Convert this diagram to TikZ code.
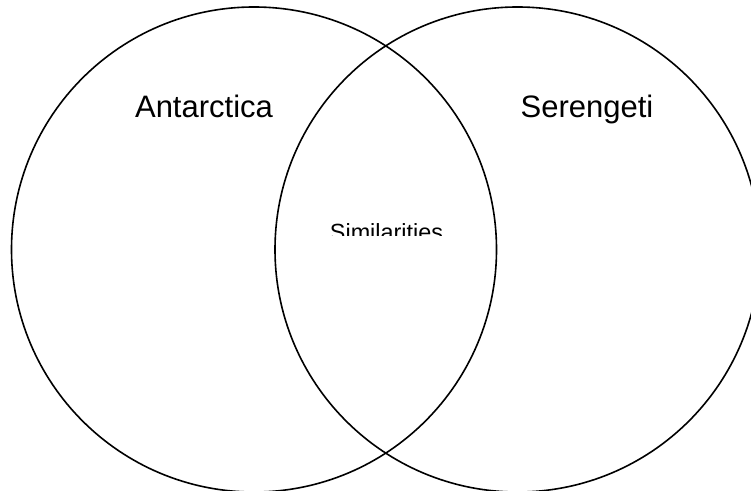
\documentclass[tikz,border=0pt]{standalone}
\usepackage{fontspec}
\setmainfont{Liberation Sans}
\definecolor{vnInk}{HTML}{000000}

\begin{document}
\begin{tikzpicture}[x=1pt,y=1pt,
                    ring/.style={draw=vnInk,line width=1.6pt,circle,inner sep=0pt,
                                 minimum size=485pt},
                    title/.style={anchor=base,inner sep=0pt,
                                  font=\fontsize{31}{37}\selectfont},
                    overlap/.style={anchor=base,inner sep=0pt,
                                    font=\fontsize{23.4}{28}\selectfont}]
  \useasboundingbox (0,0) rectangle (751,490);
  \node[ring] (antarctica) at (254,240.5) {};
  \node[ring] (serengeti) at (517.5,240.5) {};
  \node[title] (antarcticaLabel) at (204,372) {Antarctica};
  \node[title] (serengetiLabel) at (587,372) {Serengeti};
  % The middle label is cut off at its foot, as in the source picture.
  \begin{scope}
    \clip (300,254.3) rectangle (470,290);
    \node[overlap] (similarities) at (386.5,249.3) {Similarities};
  \end{scope}
\end{tikzpicture}
\end{document}
